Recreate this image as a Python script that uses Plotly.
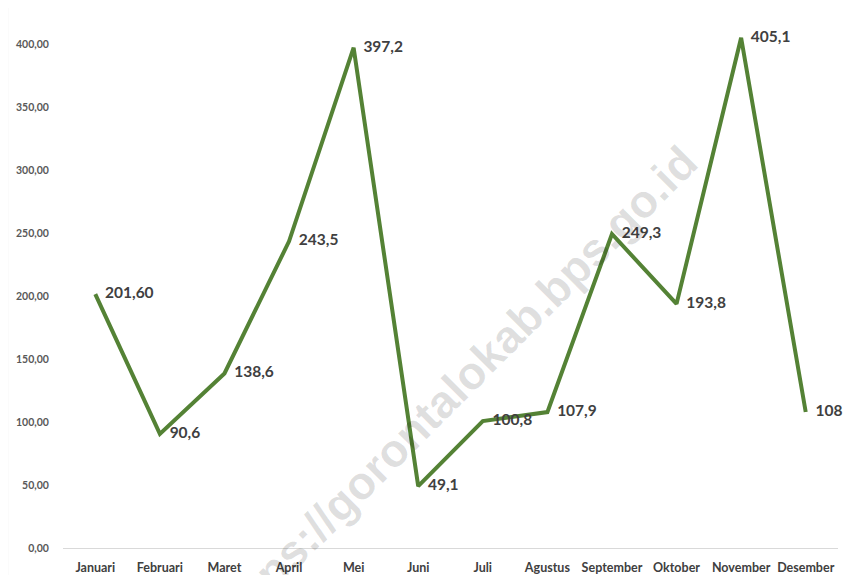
import plotly.graph_objects as go

months = ["Januari", "Februari", "Maret", "April", "Mei", "Juni", "Juli",
          "Agustus", "September", "Oktober", "November", "Desember"]
values = [201.6, 90.6, 138.6, 243.5, 397.2, 49.1, 100.8, 107.9, 249.3, 193.8, 405.1, 108]
labels = ["201,60", "90,6", "138,6", "243,5", "397,2", "49,1", "100,8", "107,9",
          "249,3", "193,8", "405,1", "108"]
y_ticks = [0, 50, 100, 150, 200, 250, 300, 350, 400]

FONT = "Lato, 'Open Sans', sans-serif"

fig = go.Figure()
fig.add_trace(go.Scatter(
    x=months, y=values, mode="lines+markers+text",
    line=dict(color="#548235", width=4),
    marker=dict(size=14, color="rgba(0,0,0,0)"),
    text=labels, textposition="middle right",
    textfont=dict(family=FONT, size=15.5, color="#404040", weight="bold"),
    cliponaxis=False, showlegend=False, hoverinfo="x+y",
))

# page has an 8px body margin, so the figure is sized 8px smaller each way
fig.update_layout(
    width=844, height=567,
    margin=dict(l=55, r=14, t=11, b=27, autoexpand=False),
    paper_bgcolor="white", plot_bgcolor="white",
    separators=", ",
    font=dict(family=FONT, color="#595959"),
    xaxis=dict(
        type="category", range=[-0.5, 11.5], showgrid=False, automargin=False,
        showline=True, linecolor="#d9d9d9", linewidth=1,
        ticks="outside", ticklen=8, tickcolor="rgba(0,0,0,0)",
        tickfont=dict(family=FONT, size=12.5, color="#404040", weight="bold"),
        zeroline=False,
    ),
    yaxis=dict(
        range=[0, 420], tickvals=y_ticks, tickformat=".2f", showgrid=False,
        zeroline=False, showline=False, automargin=False,
        ticks="outside", ticklen=11, tickcolor="rgba(0,0,0,0)",
        tickfont=dict(family=FONT, size=10.5, color="#595959", weight="bold"),
    ),
    shapes=[dict(type="line", xref="paper", yref="paper", x0=-0.072, x1=-0.072,
                 y0=-0.06, y1=1.04, line=dict(color="#ececec", width=2))],
    annotations=[dict(
        text="https://gorontalokab.bps.go.id", xref="paper", yref="y",
        x=(455 - 63) / 775, y=(548 - 388) / 1.2595, showarrow=False,
        xanchor="center", yanchor="middle",
        textangle=-45, font=dict(family="Liberation Sans, Arial, sans-serif", size=46,
                                 color="rgba(0,0,0,0.13)", weight="bold"),
    )],
)

fig.write_html("out.html")
